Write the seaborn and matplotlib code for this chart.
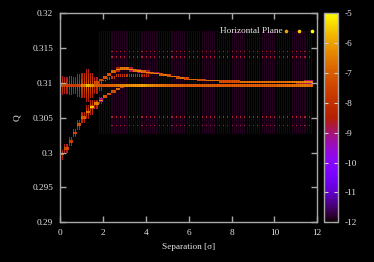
import numpy as np
import pandas as pd
import seaborn as sns
import matplotlib.pyplot as plt

# separation columns: [k*0.2, (k+1)*0.2], k = 0..58
sep_step = 0.2
n_cols = 59

# main flat branch (all columns)
main_q = [0.3096] * 59
main_level = ([-6.8, -6.9, -6.8, -7.0, -6.7]
              + [-5.8, -5.0, -5.5]
              + [-6.3, -6.4, -6.3, -6.2, -6.1, -5.9]
              + [-5.7, -5.6, -5.5, -5.4, -5.4, -5.3, -5.5, -5.6, -5.8]
              + [-5.9, -6.0, -6.1, -6.1, -6.2, -6.2, -6.3]
              + [-6.3] * 20
              + [-6.2, -6.1, -6.1, -6.0, -6.0, -6.0, -5.9, -5.9, -6.0])

# lower rising branch (columns 0-14)
lower_q = [0.2997, 0.3006, 0.3016, 0.3028, 0.3040, 0.3050, 0.3058, 0.3065,
           0.3070, 0.3075, 0.3080, 0.3084, 0.3088, 0.3091, 0.3094]
lower_level = [-6.5, -6.7, -6.9, -6.7, -6.5, -6.3, -5.9, -5.4,
               -5.8, -6.2, -6.4, -6.5, -6.6, -6.7, -6.9]

# upper branch (columns 7-58)
upper_start = 7
upper_q = ([0.3097, 0.3100, 0.3104, 0.3108, 0.3112, 0.3116, 0.3119, 0.3120,
            0.3120, 0.3119, 0.3118, 0.3117, 0.3116, 0.3115, 0.3114, 0.3113,
            0.3112, 0.3111, 0.3110, 0.3109, 0.3108, 0.3107, 0.3106, 0.3105,
            0.3105, 0.3104, 0.3104, 0.3103, 0.3103, 0.3103, 0.3102, 0.3102,
            0.3102, 0.3102, 0.3102] + [0.3101] * 17)
upper_level = ([-6.9, -6.7, -6.6, -6.5, -6.4, -6.2]
               + [-6.0, -5.9, -5.9, -6.0, -6.0, -6.1, -6.1, -6.2, -6.2, -6.3]
               + [-6.3, -6.4, -6.4, -6.5, -6.5, -6.5, -6.6, -6.6, -6.6, -6.6]
               + [-6.6] * 20 + [-6.5, -6.4, -6.3, -6.3, -6.2, -6.2])

# faint branch between main and upper (columns 8-20)
echo_start = 8
echo_q = [0.3097, 0.3100, 0.3103, 0.3106, 0.3108, 0.3110, 0.3110,
          0.3110, 0.3110, 0.3110, 0.3110, 0.3110, 0.3110]
echo_level = [-7.4, -7.2, -7.1, -7.1, -7.2, -7.2, -7.3,
              -7.3, -7.4, -7.4, -7.5, -7.6, -7.8]

# vertical smear at small separation (columns 0-9)
main_halo = [-7.6, -7.8, -7.6, -7.8, -7.5, -7.2, -6.8, -7.2, -7.8, -8.2]
lower_halo = [-7.6, -7.8, -7.8, -7.7, -7.6, -7.4, -7.2, -7.0, -7.6, -8.0]

# faint horizontal traces (Q, level), columns 12-58
faint_q = [0.3145, 0.3137, 0.3051, 0.3039]
faint_level = [-8.6, -8.75, -8.7, -8.75]
haze_range = (0.3025, 0.3175)
haze_level = -11.85
cutoff = -8.8  # below this the original shows nothing

y_lo, y_hi, dy = 0.29, 0.32, 0.0002
n_rows = int(round((y_hi - y_lo) / dy))
q_rows = y_hi - (np.arange(n_rows) + 0.5) * dy

solid = np.full((n_rows, n_cols), -12.0)   # continuous branches
sparse = np.full((n_rows, n_cols), -12.0)  # smear and faint traces
dotted = np.full((n_rows, n_cols), -12.0)  # very sparse traces


def add_line(g, c, qc, lev):
    v = lev - 2.5 * (np.abs(q_rows - qc) / dy) ** 2
    g[:, c] = np.maximum(g[:, c], np.where(v > cutoff, v, -12))


def add_halo(g, c, qc, lev, hw):
    v = lev - 1.2 * np.abs(q_rows - qc) / hw
    g[:, c] = np.maximum(g[:, c], np.where(v > cutoff, v, -12))


for c in range(n_cols):
    if c >= 9:
        inside = (q_rows > haze_range[0]) & (q_rows < haze_range[1])
        sparse[inside, c] = haze_level
    if c >= 12:
        for qf, lf in zip(faint_q, faint_level):
            add_line(dotted, c, qf, lf)
    if c < len(main_halo):
        add_halo(sparse, c, main_q[c], main_halo[c], 0.0014)
        add_halo(sparse, c, lower_q[c], lower_halo[c], 0.0007)
    add_line(solid, c, main_q[c], main_level[c])
    if c < len(lower_q):
        add_line(solid, c, lower_q[c], lower_level[c])
    if c >= upper_start:
        add_line(solid, c, upper_q[c - upper_start], upper_level[c - upper_start])
    if echo_start <= c < echo_start + len(echo_q):
        add_line(sparse, c, echo_q[c - echo_start], echo_level[c - echo_start])

# striped sub-columns like the original sampling
sub = 4
sub_w = sep_step / sub
mild = np.tile([0.0, -0.3, 0.0, -0.3], n_cols)
gaps = np.tile([0.0, -20.0, 0.0, -20.0], n_cols)
wide = np.tile([0.0, -20.0, -20.0, -20.0], n_cols)
fine = np.maximum.reduce([np.repeat(solid, sub, axis=1) + mild,
                          np.repeat(sparse, sub, axis=1) + gaps,
                          np.repeat(dotted, sub, axis=1) + wide])
fine = np.clip(fine, -12, -5)

df = pd.DataFrame(fine)

fg = '#e6e6e6'
frame = '#a8a8a8'
plt.rcParams['font.family'] = ['Liberation Serif', 'DejaVu Serif']
plt.rcParams['font.size'] = 6.7

fig = plt.figure(figsize=(3.74, 2.62), dpi=100, facecolor='black')
ax = fig.add_axes([60 / 374, 1 - 222.3 / 262, 257.3 / 374, 209.3 / 262])
cax = fig.add_axes([324 / 374, 1 - 222.3 / 262, 14 / 374, 209.3 / 262])
ax.set_facecolor('black')

sns.heatmap(df, ax=ax, cbar_ax=cax, cmap='gnuplot', vmin=-12, vmax=-5,
            xticklabels=False, yticklabels=False, rasterized=True)

ax.set_xlim(0, 12 / sub_w)
ax.set_ylim(n_rows, 0)
xt = np.arange(0, 13, 2)
ax.set_xticks(xt / sub_w)
ax.set_xticklabels([str(v) for v in xt])
yt = [0.29, 0.295, 0.3, 0.305, 0.31, 0.315, 0.32]
ax.set_yticks([(y_hi - v) / dy for v in yt])
ax.set_yticklabels(['%g' % v for v in yt])
for s in ax.spines.values():
    s.set_visible(True)
    s.set_color(frame)
    s.set_linewidth(1)
ax.tick_params(direction='in', top=True, right=True, length=4, width=1,
               color=frame, labelcolor=fg, labelsize=6.7, pad=5)

ax.set_xlabel('Separation [σ]', color=fg, fontsize=6.7)
ax.xaxis.set_label_coords(0.5, -0.118)
ax.xaxis.label.set_va('center')
ax.set_ylabel('Q', color=fg, fontsize=6.7)
ax.yaxis.set_label_coords(-0.167, 0.5)
ax.yaxis.label.set_va('center')

# key
ax.text(0.867, 0.914, 'Horizontal Plane', transform=ax.transAxes,
        ha='right', va='center', color=fg, fontsize=6.7)
cm = plt.get_cmap('gnuplot')
for xk, lv in zip([0.878, 0.929, 0.979], [-6.0, -5.5, -5.0]):
    ax.plot([xk], [0.914], 'o', ms=1.6, color=cm((lv + 12) / 7),
            transform=ax.transAxes, clip_on=False)

cb = ax.collections[0].colorbar
cb.outline.set_linewidth(1)
cb.outline.set_edgecolor(frame)
cb.set_ticks(range(-12, -4))
cb.set_ticklabels([str(v) for v in range(-12, -4)])
cax.tick_params(direction='in', left=True, right=True, length=3, width=0.8,
                color='#d0d0d0', labelcolor=fg, labelsize=6.7, pad=5)

fig.savefig('out.png', dpi=100, facecolor='black')
